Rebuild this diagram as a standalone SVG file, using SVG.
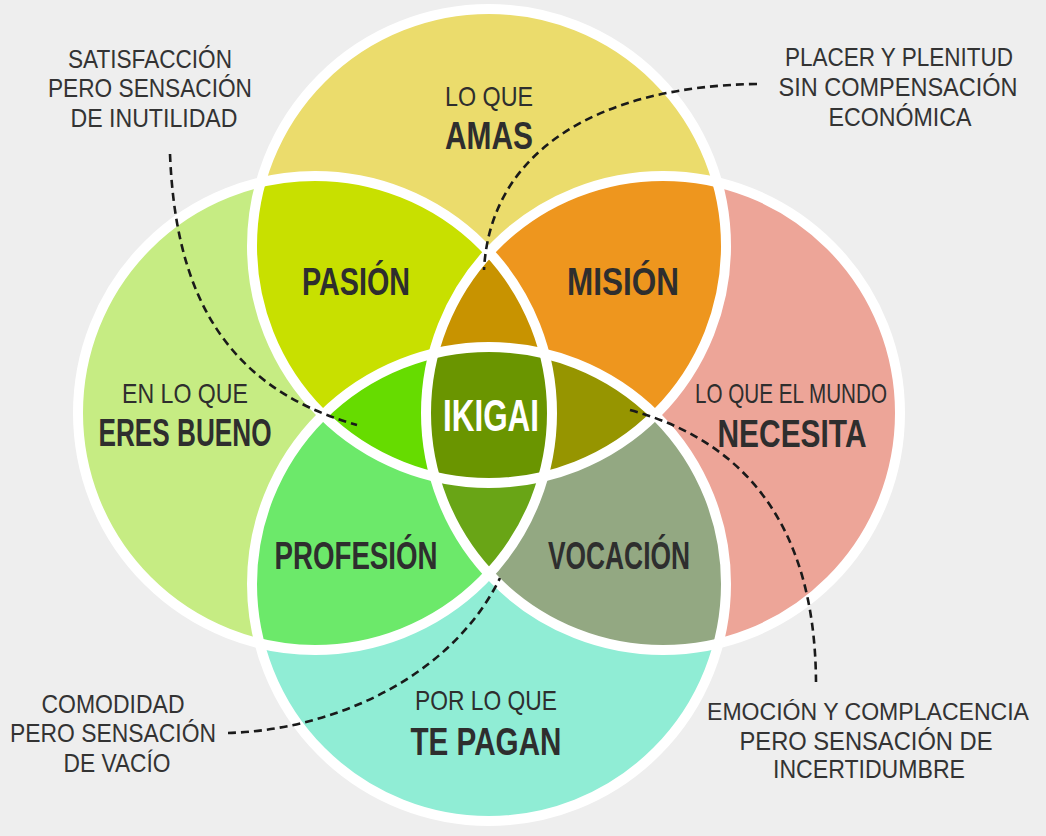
<svg xmlns="http://www.w3.org/2000/svg" width="1046" height="836" viewBox="0 0 1046 836">
<style>
.lbl{font-family:"Liberation Sans",Arial,sans-serif;fill:#2e2e2e;text-anchor:middle}
.reg{font-size:28px}
.bold{font-size:39px;font-weight:bold}
.note{font-family:"Liberation Sans",Arial,sans-serif;fill:#333;font-size:25px;text-anchor:middle}
.ring{fill:none;stroke:#ffffff;stroke-width:10}
.dash{fill:none;stroke:#1a1a1a;stroke-width:2.6;stroke-dasharray:8 5}
</style>
<defs>
<circle id="cT" cx="489" cy="246" r="237"/>
<circle id="cB" cx="489" cy="584" r="237"/>
<circle id="cL" cx="315" cy="413" r="237"/>
<circle id="cR" cx="663" cy="413" r="237"/>
<clipPath id="kT"><use href="#cT"/></clipPath>
<clipPath id="kB"><use href="#cB"/></clipPath>
<clipPath id="kL"><use href="#cL"/></clipPath>
<clipPath id="kR"><use href="#cR"/></clipPath>
</defs>
<rect width="1046" height="836" fill="#eeeeee"/>
<g id="regions">
<use href="#cT" fill="#ebdc6c"/>
<use href="#cL" fill="#c6ec83"/>
<use href="#cR" fill="#eda598"/>
<use href="#cB" fill="#90edd5"/>
<g clip-path="url(#kT)"><use href="#cL" fill="#c8e000"/><use href="#cR" fill="#ee961e"/></g>
<g clip-path="url(#kB)"><use href="#cL" fill="#6ce96a"/><use href="#cR" fill="#93a882"/></g>
<g clip-path="url(#kT)"><g clip-path="url(#kL)"><use href="#cR" fill="#c89300"/><use href="#cB" fill="#66dc00"/></g></g>
<g clip-path="url(#kB)"><g clip-path="url(#kR)"><use href="#cL" fill="#69a516"/><use href="#cT" fill="#969500"/></g></g>
<g clip-path="url(#kT)"><g clip-path="url(#kB)"><g clip-path="url(#kL)"><use href="#cR" fill="#6a9500"/></g></g></g>
<use href="#cT" class="ring"/>
<use href="#cL" class="ring"/>
<use href="#cR" class="ring"/>
<use href="#cB" class="ring"/>
</g>
<g id="connectors">
<path class="dash" d="M170,154 C175,280 215,385 357,425"/>
<path class="dash" d="M757,84 C600,86 490,150 484,270"/>
<path class="dash" d="M228,733 C330,730 450,680 500,578"/>
<path class="dash" d="M630,410 C740,440 815,520 816,682"/>
</g>
<g id="node-amas"><text class="lbl reg" x="489" y="106" textLength="88" lengthAdjust="spacingAndGlyphs">LO QUE</text><text class="lbl bold" x="489" y="149" textLength="88" lengthAdjust="spacingAndGlyphs">AMAS</text></g>
<g id="node-eres-bueno"><text class="lbl reg" x="185" y="403" textLength="126" lengthAdjust="spacingAndGlyphs">EN LO QUE</text><text class="lbl bold" x="185" y="446" textLength="173" lengthAdjust="spacingAndGlyphs">ERES BUENO</text></g>
<g id="node-necesita"><text class="lbl reg" x="791" y="403" textLength="192" lengthAdjust="spacingAndGlyphs">LO QUE EL MUNDO</text><text class="lbl bold" x="792" y="447" textLength="149" lengthAdjust="spacingAndGlyphs">NECESITA</text></g>
<g id="node-te-pagan"><text class="lbl reg" x="486" y="710" textLength="142" lengthAdjust="spacingAndGlyphs">POR LO QUE</text><text class="lbl bold" x="486" y="755" textLength="151" lengthAdjust="spacingAndGlyphs">TE PAGAN</text></g>
<g id="node-pasion"><text class="lbl bold" x="356" y="295" textLength="108" lengthAdjust="spacingAndGlyphs">PASIÓN</text></g>
<g id="node-mision"><text class="lbl bold" x="623" y="295" textLength="112" lengthAdjust="spacingAndGlyphs">MISIÓN</text></g>
<g id="node-profesion"><text class="lbl bold" x="356" y="569" textLength="163" lengthAdjust="spacingAndGlyphs">PROFESIÓN</text></g>
<g id="node-vocacion"><text class="lbl bold" x="619" y="569" textLength="142" lengthAdjust="spacingAndGlyphs">VOCACIÓN</text></g>
<g id="node-ikigai"><text class="lbl" x="491" y="431" style="fill:#ffffff;font-size:44px;font-weight:bold" textLength="96" lengthAdjust="spacingAndGlyphs">IKIGAI</text></g>
<g id="note-inutilidad">
<text class="note" x="150" y="68" textLength="164" lengthAdjust="spacingAndGlyphs">SATISFACCIÓN</text>
<text class="note" x="150" y="97" textLength="204" lengthAdjust="spacingAndGlyphs">PERO SENSACIÓN</text>
<text class="note" x="154" y="127" textLength="167" lengthAdjust="spacingAndGlyphs">DE INUTILIDAD</text>
</g>
<g id="note-economica">
<text class="note" x="899" y="66" textLength="228" lengthAdjust="spacingAndGlyphs">PLACER Y PLENITUD</text>
<text class="note" x="898" y="96" textLength="239" lengthAdjust="spacingAndGlyphs">SIN COMPENSACIÓN</text>
<text class="note" x="900" y="126" textLength="143" lengthAdjust="spacingAndGlyphs">ECONÓMICA</text>
</g>
<g id="note-vacio">
<text class="note" x="113" y="713" textLength="143" lengthAdjust="spacingAndGlyphs">COMODIDAD</text>
<text class="note" x="113" y="742" textLength="206" lengthAdjust="spacingAndGlyphs">PERO SENSACIÓN</text>
<text class="note" x="117" y="772" textLength="107" lengthAdjust="spacingAndGlyphs">DE VACÍO</text>
</g>
<g id="note-incertidumbre">
<text class="note" x="868" y="720" style="font-size:23.5px" textLength="322" lengthAdjust="spacingAndGlyphs">EMOCIÓN Y COMPLACENCIA</text>
<text class="note" x="866" y="750" textLength="253" lengthAdjust="spacingAndGlyphs">PERO SENSACIÓN DE</text>
<text class="note" x="869" y="778" textLength="192" lengthAdjust="spacingAndGlyphs">INCERTIDUMBRE</text>
</g>
</svg>
